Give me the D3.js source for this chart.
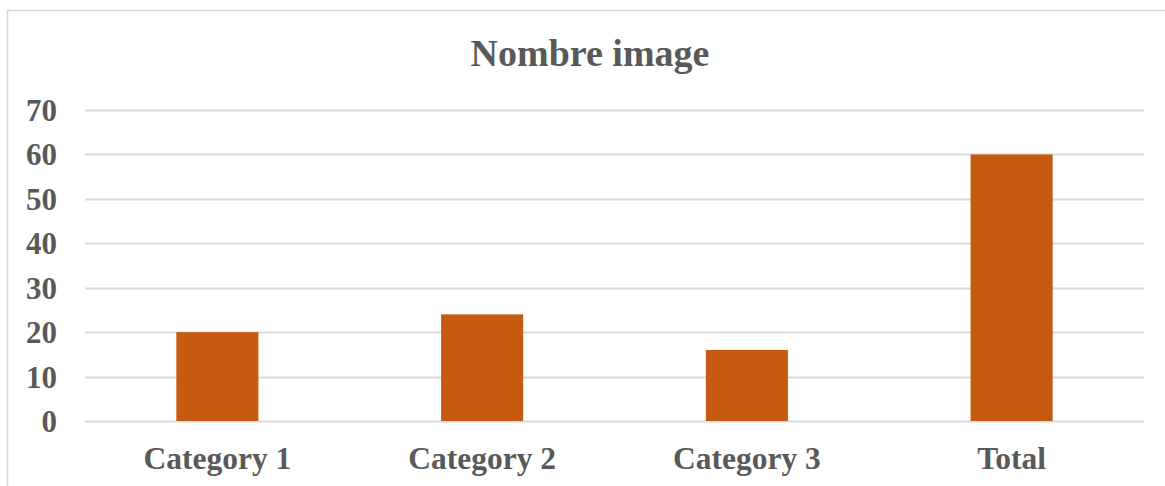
<!DOCTYPE html>
<html>
<head>
<meta charset="utf-8">
<script src="https://cdn.jsdelivr.net/npm/d3@7"></script>
<style>
  html, body { margin: 0; padding: 0; background: #fff; }
  svg { display: block; }
</style>
</head>
<body>
<svg id="chart" width="1165" height="486"></svg>
<script>
const categories = ["Category 1", "Category 2", "Category 3", "Total"];
const values = [20, 24, 16, 60];
const yTicks = [0, 10, 20, 30, 40, 50, 60, 70];
const title = "Nombre image";

const W = 1165, H = 486;
const margin = { left: 85, right: 21, top: 110, bottom: 65 };
const svg = d3.select("#chart");
const font = "'Liberation Serif', 'Times New Roman', serif";
const textColor = "#595959";

// chart border (left + top visible)
svg.append("rect")
  .attr("x", 7.5).attr("y", 10.5)
  .attr("width", 1170).attr("height", 500)
  .attr("fill", "none").attr("stroke", "#d9d9d9").attr("stroke-width", 1.5);

const x = d3.scaleBand()
  .domain(categories)
  .range([margin.left, W - margin.right])
  .paddingInner(0.69)
  .paddingOuter(0.345);

const y = d3.scaleLinear()
  .domain([0, 70])
  .range([421, 110]);

// gridlines
svg.append("g")
  .selectAll("line")
  .data(yTicks)
  .join("line")
  .attr("x1", margin.left).attr("x2", W - margin.right)
  .attr("y1", d => Math.round(y(d)) + 0.5).attr("y2", d => Math.round(y(d)) + 0.5)
  .attr("stroke", "#d9d9d9").attr("stroke-width", 2);

// y axis labels
const yAxis = d3.axisLeft(y).tickValues(yTicks).tickSize(0).tickPadding(0);
const gy = svg.append("g").attr("transform", "translate(57,0)").call(yAxis);
gy.select(".domain").remove();
gy.selectAll("text")
  .attr("font-family", font).attr("font-weight", "bold").attr("font-size", 31)
  .attr("fill", textColor).attr("dy", "0.34em");

// bars
svg.append("g")
  .selectAll("rect")
  .data(values)
  .join("rect")
  .attr("x", (d, i) => x(categories[i]))
  .attr("width", x.bandwidth())
  .attr("y", d => y(d))
  .attr("height", d => y(0) - y(d))
  .attr("fill", "#C55A11");

// x axis labels
const xAxis = d3.axisBottom(x).tickSize(0).tickPadding(0);
const gx = svg.append("g").attr("transform", "translate(0,469)").call(xAxis);
gx.select(".domain").remove();
gx.selectAll("text")
  .attr("font-family", font).attr("font-weight", "bold").attr("font-size", 31.5)
  .attr("fill", textColor).attr("dy", 0).attr("y", 0);

// title
svg.append("text")
  .attr("x", 590).attr("y", 66)
  .attr("text-anchor", "middle")
  .attr("font-family", font).attr("font-weight", "bold").attr("font-size", 38)
  .attr("fill", textColor)
  .text(title);
</script>
</body>
</html>
